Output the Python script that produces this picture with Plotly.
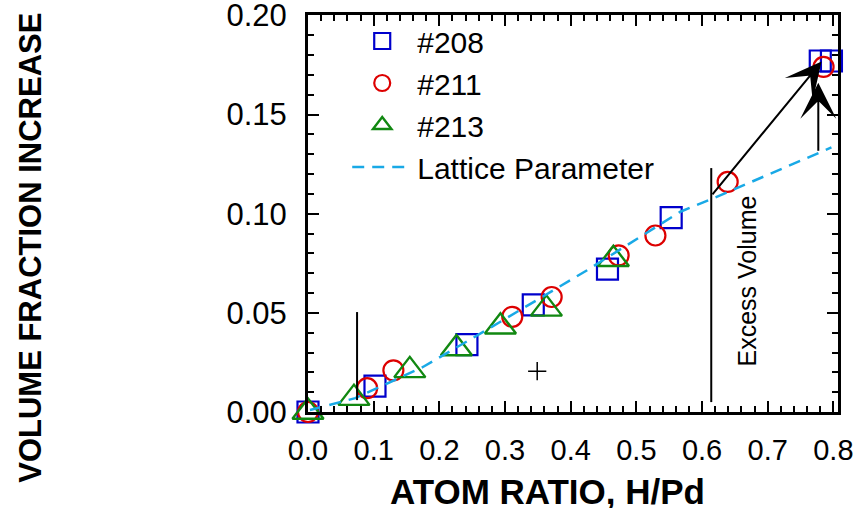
import plotly.graph_objects as go

# ---- data ----
s208_x = [0.0, 0.102, 0.242, 0.343, 0.456, 0.553, 0.780, 0.797]
s208_y = [0.0, 0.013, 0.034, 0.054, 0.072, 0.098, 0.177, 0.177]

s211_x = [0.0, 0.090, 0.130, 0.311, 0.371, 0.473, 0.529, 0.639, 0.785]
s211_y = [0.0, 0.012, 0.021, 0.048, 0.058, 0.079, 0.089, 0.116, 0.174]

s213_x = [0.0, 0.070, 0.155, 0.226, 0.293, 0.363, 0.465]
s213_y = [0.0, 0.007, 0.021, 0.032, 0.043, 0.052, 0.077]

lattice_x = [0.003, 0.072, 0.175, 0.270, 0.425, 0.567, 0.613, 0.797]
lattice_y = [0.001, 0.007, 0.0227, 0.041, 0.0715, 0.1010, 0.1072, 0.1334]

# annotation geometry (data units)
vline_x = [0.0747, 0.614]
vline_y0 = [0.006, 0.005]
vline_y1 = [0.0504, 0.123]
arrow_tail_x = [0.614, 0.777]
arrow_tail_y = [0.109, 0.131]
arrow_tip_x = [0.782, 0.777]
arrow_tip_y = [0.1767, 0.166]
plus_x = [0.349]
plus_y = [0.0206]
label_x = 0.669
label_y = 0.066

x_ticks = [0.0, 0.1, 0.2, 0.3, 0.4, 0.5, 0.6, 0.7, 0.8]
y_ticks = [0.0, 0.05, 0.10, 0.15, 0.20]

FONT = "Liberation Sans, Arial, sans-serif"

fig = go.Figure()
fig.add_trace(go.Scatter(x=s208_x, y=s208_y, mode="markers", name="#208", cliponaxis=False,
                         marker=dict(symbol="square-open", size=21, color="#0000CC", line=dict(width=2.2))))
fig.add_trace(go.Scatter(x=s211_x, y=s211_y, mode="markers", name="#211", cliponaxis=False,
                         marker=dict(symbol="circle-open", size=20, color="#DD0000", line=dict(width=2.2))))
fig.add_trace(go.Scatter(x=s213_x, y=s213_y, mode="markers", name="#213", cliponaxis=False,
                         marker=dict(symbol="triangle-up-open", size=27, color="#118811", line=dict(width=2.4))))
fig.add_trace(go.Scatter(x=lattice_x, y=lattice_y, mode="lines", name="Lattice Parameter",
                         line=dict(color="#19A9E6", width=2.5, dash="12px,8px")))
fig.add_trace(go.Scatter(x=plus_x, y=plus_y, mode="markers", showlegend=False,
                         marker=dict(symbol="cross-thin", size=13, color="black", line=dict(width=1.5, color="black"))))

for x, y0, y1 in zip(vline_x, vline_y0, vline_y1):
    fig.add_shape(type="line", x0=x, x1=x, y0=y0, y1=y1, xref="x", yref="y",
                  line=dict(color="black", width=2))

for tx, ty, hx, hy in zip(arrow_tail_x, arrow_tail_y, arrow_tip_x, arrow_tip_y):
    fig.add_annotation(x=hx, y=hy, ax=tx, ay=ty, xref="x", yref="y", axref="x", ayref="y",
                       text="", showarrow=True, arrowhead=3, arrowsize=3.0, arrowwidth=2,
                       arrowcolor="black", standoff=0, startstandoff=0)

fig.add_annotation(x=label_x, y=label_y, xref="x", yref="y", text="Excess Volume", textangle=-90,
                   xanchor="center", yanchor="middle",
                   showarrow=False, font=dict(family=FONT, size=25, color="black"))

# axis titles
fig.add_annotation(x=0.452, y=-0.199, xref="paper", yref="paper", text="<b>ATOM RATIO, H/Pd</b>",
                   xanchor="center", yanchor="middle",
                   showarrow=False, font=dict(family=FONT, size=35, color="black"))
fig.add_annotation(x=-0.525, y=0.413, xref="paper", yref="paper", text="<b>VOLUME FRACTION INCREASE</b>",
                   xanchor="center", yanchor="middle",
                   textangle=-90, showarrow=False, font=dict(family=FONT, size=31, color="black"))

axis_common = dict(showline=True, linecolor="black", linewidth=3, mirror="allticks",
                   ticks="inside", ticklen=11, tickwidth=2, tickcolor="black",
                   showgrid=False, zeroline=False, automargin=False, ticklabeloverflow="allow")

fig.update_xaxes(range=[0, 0.807], tickvals=x_ticks, tickformat=".1f", ticklabelstandoff=10,
                 tickfont=dict(family=FONT, size=29, color="black"),
                 minor=dict(ticks="inside", ticklen=6, tickwidth=2, dtick=0.02, tickcolor="black", showgrid=False),
                 **axis_common)
fig.update_yaxes(range=[0, 0.2002], tickvals=y_ticks, tickformat=".2f", ticklabelstandoff=12,
                 tickfont=dict(family=FONT, size=31, color="black"),
                 minor=dict(ticks="inside", ticklen=6, tickwidth=2, dtick=0.01, tickcolor="black", showgrid=False),
                 **axis_common)

fig.update_layout(
    width=857, height=508,
    margin=dict(l=308, r=19, t=15, b=96),
    paper_bgcolor="white", plot_bgcolor="white",
    font=dict(family=FONT, color="black"),
    hovermode=False,
    legend=dict(x=0.074, y=1.0, xanchor="left", yanchor="top", bgcolor="rgba(0,0,0,0)",
                font=dict(family=FONT, size=30, color="black"), itemwidth=60),
)

# remove the default 8px page margin so the figure fills the window exactly
fig.write_html("out.html", config={"displayModeBar": False, "staticPlot": True},
               post_script="document.body.style.margin='0';document.body.style.overflow='hidden';")
